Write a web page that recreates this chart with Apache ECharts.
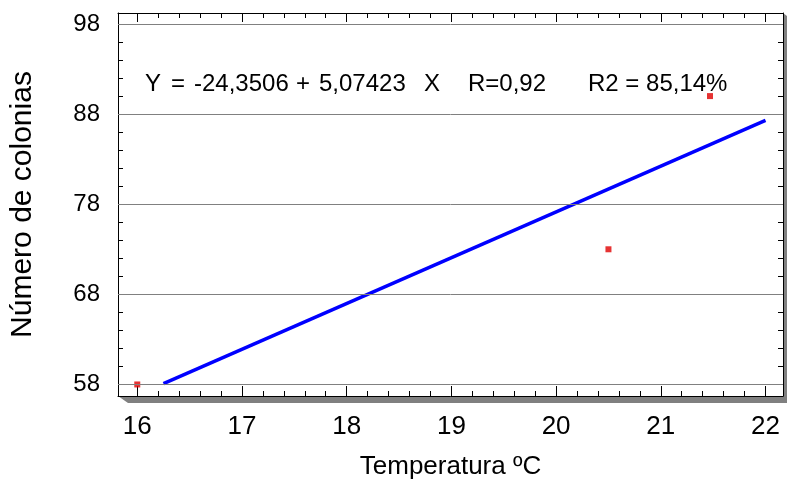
<!DOCTYPE html>
<html>
<head>
<meta charset="utf-8">
<script src="https://cdn.jsdelivr.net/npm/echarts@6/dist/echarts.min.js"></script>
<style>
  html, body { margin: 0; padding: 0; background: #fff; }
  #chart-container { width: 787px; height: 486px; }
</style>
</head>
<body>
<div id="chart-container"></div>
<script>
// observed points
var tempValues = [16, 20.5, 21.47];
var colonyValues = [58, 73, 90];
// fitted line end points
var fitX = [16.25, 22];
var fitY = [58.1, 87.3];
// axes
var xTicks = [16, 17, 18, 19, 20, 21, 22];
var yTicks = [58, 68, 78, 88, 98];
var xRange = [15.816, 22.167];
var yRange = [56.72, 99.22];
var equationParts = ['Y', '=', '-24,3506', '+', '5,07423', 'X', 'R=0,92', 'R2 = 85,14%'];
var equationLeft = [145, 171, 194, 296, 319, 424, 468, 588];

function minorTicks(min, max, step, majors) {
    var out = [];
    var start = Math.ceil(min / step - 1e-6);
    for (var i = start; i * step <= max + 1e-9; i++) {
        var v = Math.round(i * step * 100) / 100;
        if (majors.indexOf(v) < 0) out.push(v);
    }
    return out;
}
var xMinor = minorTicks(xRange[0], xRange[1], 0.2, xTicks);
var yMinor = minorTicks(yRange[0], yRange[1], 2, yTicks);

var dom = document.getElementById('chart-container');
var myChart = echarts.init(dom, null, { renderer: 'canvas' });
var font = '"Liberation Sans", Arial, sans-serif';

function xAxisDef(pos, ticks, len, showLine, labels) {
    return {
        type: 'value', position: pos, min: xRange[0], max: xRange[1], z: 3,
        axisLine: { show: showLine, onZero: false, lineStyle: { color: '#000', width: 1 } },
        axisTick: { show: true, inside: true, length: len, customValues: ticks, lineStyle: { color: '#000', width: 1 } },
        axisLabel: { show: labels, customValues: ticks, color: '#000', fontSize: 26, fontFamily: font, margin: 18 },
        splitLine: { show: false }
    };
}
function yAxisDef(pos, ticks, len, showLine, labels) {
    return {
        type: 'value', position: pos, min: yRange[0], max: yRange[1], z: 3,
        axisLine: { show: showLine, onZero: false, lineStyle: { color: '#000', width: 1 } },
        axisTick: { show: true, inside: true, length: len, customValues: ticks, lineStyle: { color: '#000', width: 1 } },
        axisLabel: { show: labels, customValues: ticks, color: '#000', fontSize: 24, fontFamily: font, margin: 18 },
        splitLine: { show: false }
    };
}

var xAxes = [
    xAxisDef('bottom', xTicks, 10, true, true),
    xAxisDef('bottom', xMinor, 5, false, false),
    xAxisDef('top', xTicks, 9, true, false),
    xAxisDef('top', xMinor, 5, false, false)
];
xAxes[0].name = 'Temperatura ºC';
xAxes[0].nameLocation = 'middle';
xAxes[0].nameGap = 58;
xAxes[0].nameTextStyle = { color: '#000', fontSize: 26, fontFamily: font };

var yAxes = [
    yAxisDef('left', yTicks, 12, true, true),
    yAxisDef('left', yMinor, 5, false, false),
    yAxisDef('right', yTicks, 12, true, false),
    yAxisDef('right', yMinor, 5, false, false)
];
yAxes[0].name = 'Número de colonias';
yAxes[0].nameLocation = 'middle';
yAxes[0].nameGap = 80;
yAxes[0].nameRotate = 90;
yAxes[0].nameTextStyle = { color: '#000', fontSize: 30, fontFamily: font };

var graphics = [
    { type: 'polygon', shape: { points: [[118, 396], [128, 403], [787, 403], [787, 396]] }, style: { fill: '#808080' }, z: 1 },
    { type: 'polygon', shape: { points: [[783, 13], [787, 16], [787, 403], [783, 396]] }, style: { fill: '#808080' }, z: 1 }
];
equationParts.forEach(function (t, i) {
    graphics.push({ type: 'text', left: equationLeft[i], top: 72, style: { text: t, fill: '#000', font: '24px ' + font } });
});

var option = {
    animation: false,
    backgroundColor: '#fff',
    grid: { left: 118, right: 4, top: 13, bottom: 90, containLabel: false },
    xAxis: xAxes,
    yAxis: yAxes,
    graphic: graphics,
    series: [
        {
            type: 'line',
            xAxisIndex: 0, yAxisIndex: 0,
            data: fitX.map(function (x, i) { return [x, fitY[i]]; }),
            showSymbol: false,
            lineStyle: { color: '#0000ff', width: 3.5 },
            z: 2,
            markLine: {
                silent: true,
                symbol: ['none', 'none'],
                label: { show: false },
                lineStyle: { color: '#808080', type: 'solid', width: 1 },
                data: yTicks.map(function (v) { return { yAxis: v }; })
            }
        },
        {
            type: 'scatter',
            xAxisIndex: 0, yAxisIndex: 0,
            data: tempValues.map(function (x, i) { return [x, colonyValues[i]]; }),
            symbol: 'rect',
            symbolSize: 6,
            itemStyle: { color: '#e00000' },
            z: 4
        }
    ]
};

myChart.setOption(option);
window.addEventListener('resize', myChart.resize);
</script>
</body>
</html>
